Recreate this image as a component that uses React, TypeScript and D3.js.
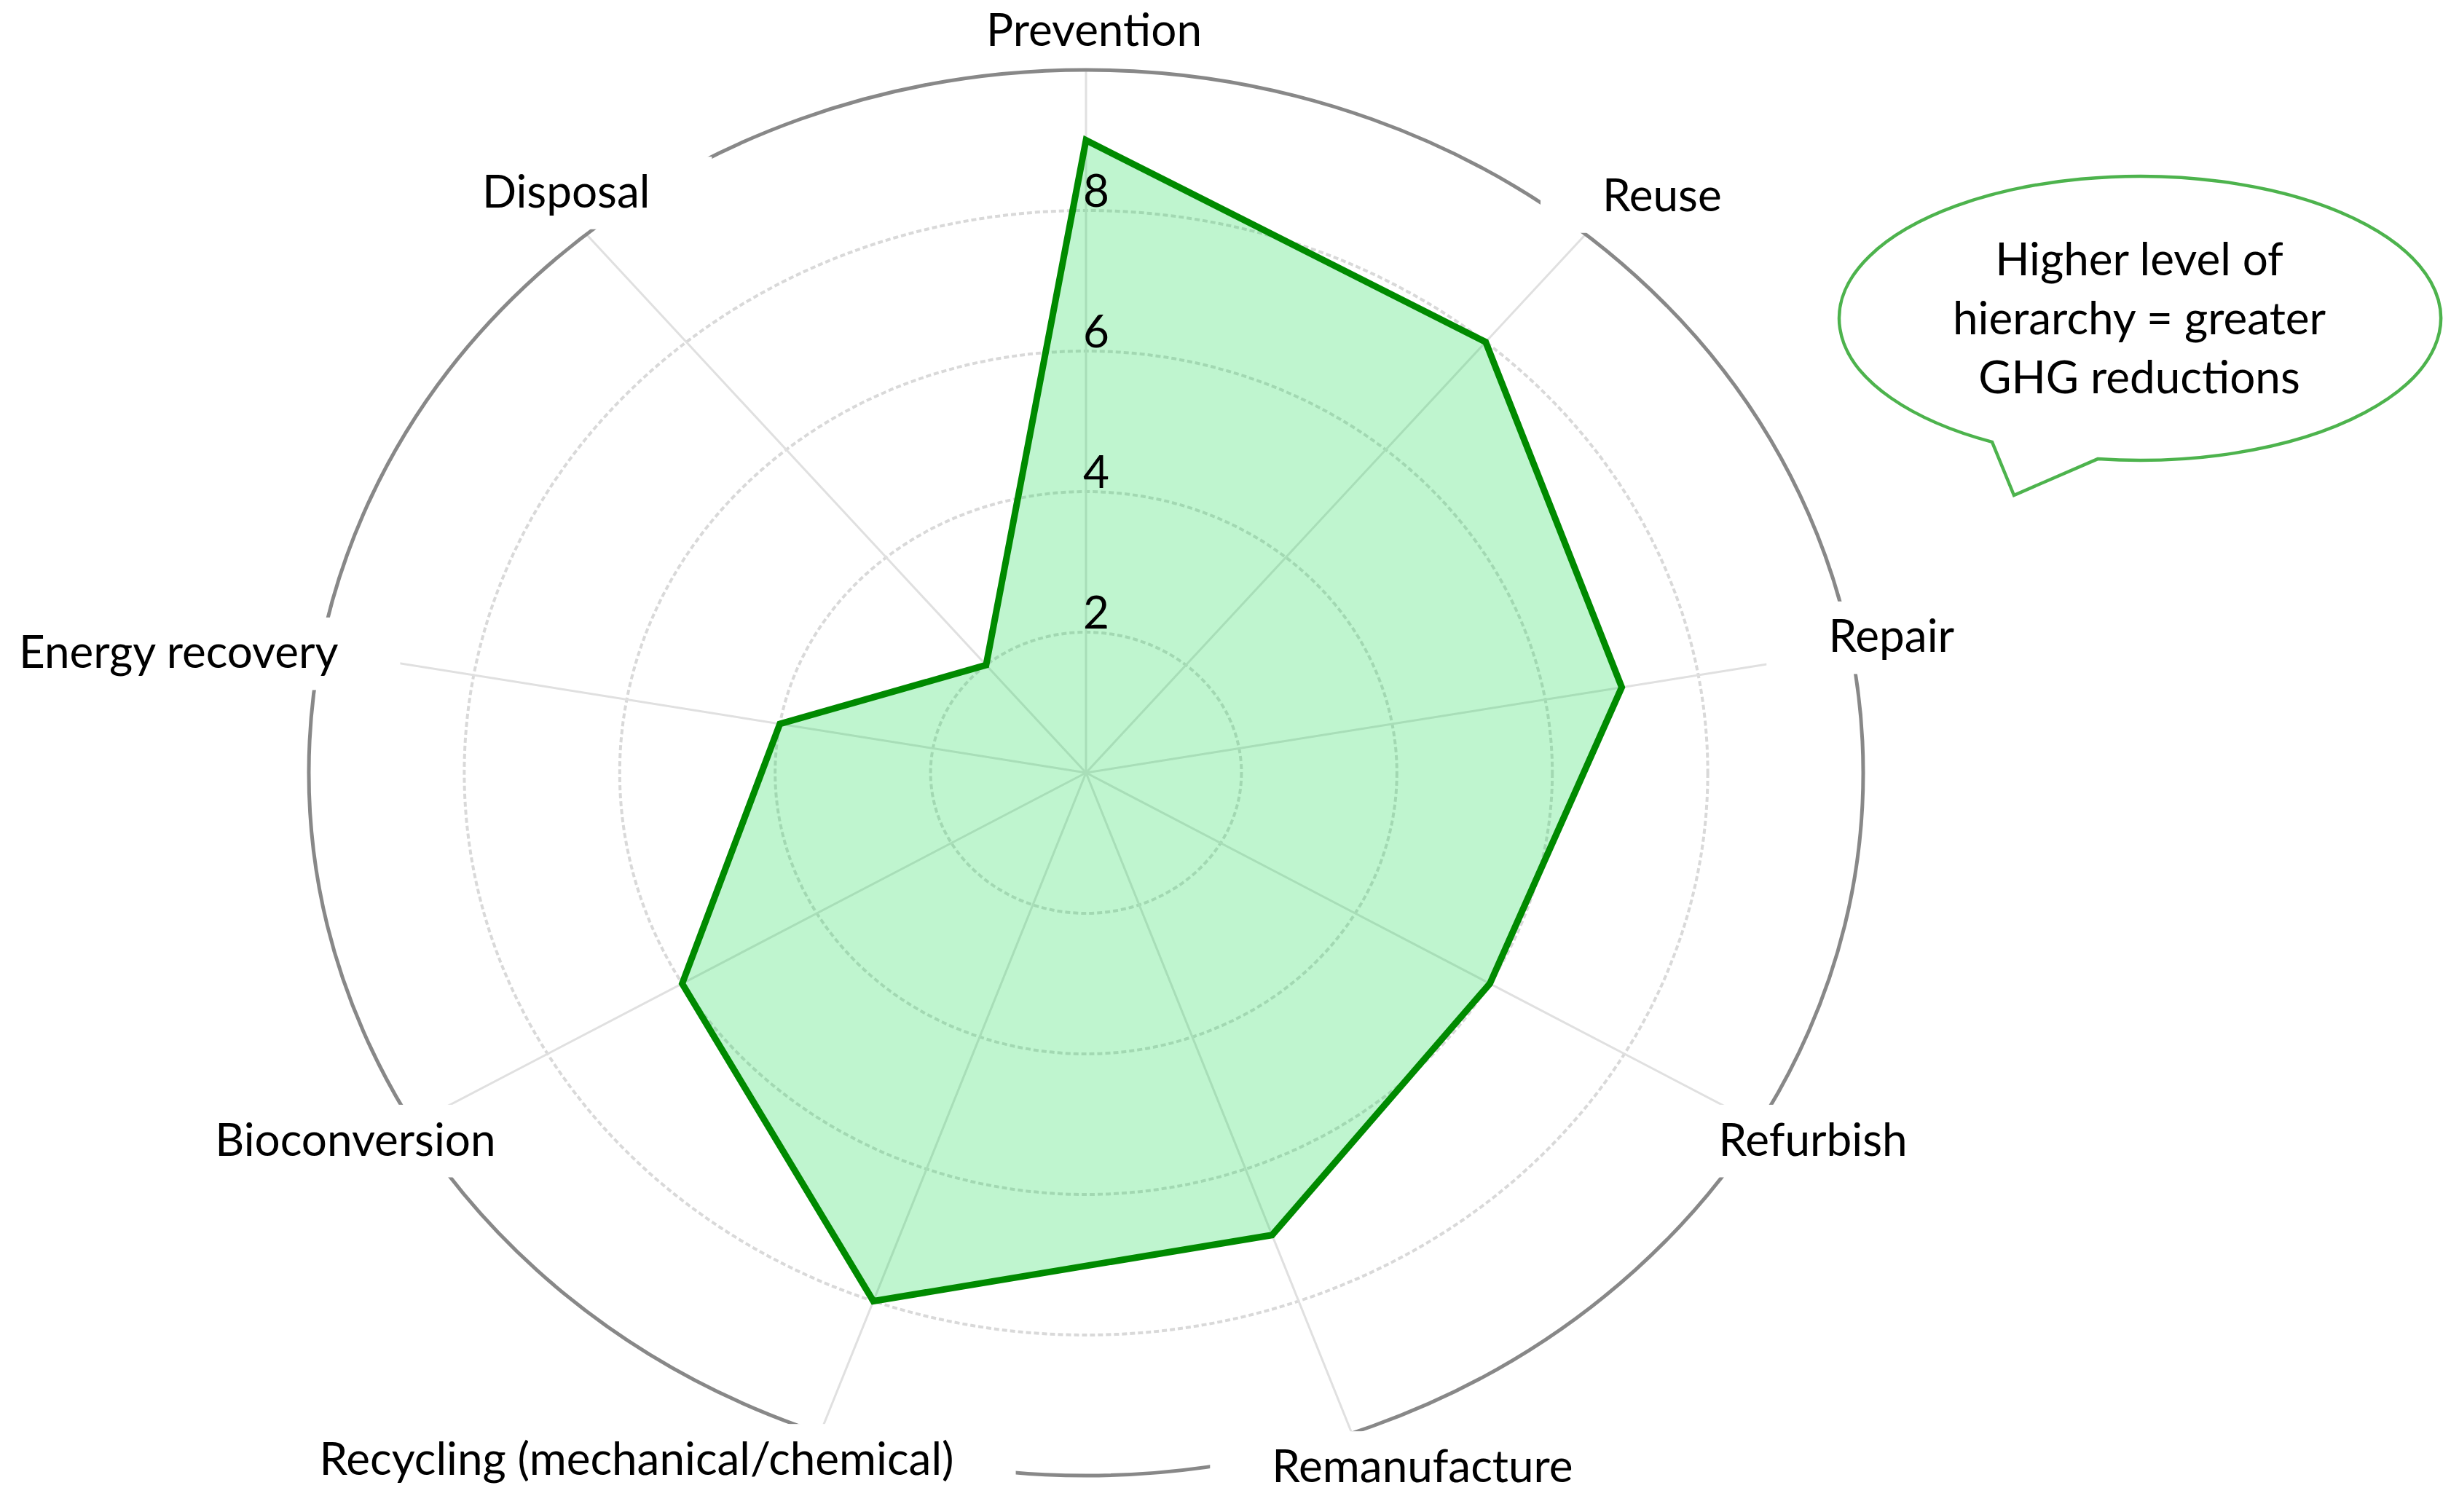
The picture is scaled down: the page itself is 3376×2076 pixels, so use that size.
import React, { useLayoutEffect, useRef, useState } from 'react';
import * as d3 from 'd3';

const categories = [
  'Prevention',
  'Reuse',
  'Repair',
  'Refurbish',
  'Remanufacture',
  'Recycling (mechanical/chemical)',
  'Bioconversion',
  'Energy recovery',
  'Disposal',
];
const reductionValues = [9, 8, 7, 6, 7, 8, 6, 4, 2];
const tickValues = [2, 4, 6, 8];
const maxValue = 10;
const bubbleLines = ['Higher level of', 'hierarchy = greater', 'GHG reductions'];

const WIDTH = 3376;
const HEIGHT = 2076;
const CX = 1491;
const CY = 1061;
const RX = 1067;
const RY = 965;
const FONT = 'Lato, "Liberation Sans", sans-serif';
const FONT_SIZE = 62;
const CAP = FONT_SIZE * 0.72;

// label nudge from the axis tip: [center x, baseline]
const labelNudge = [
  [11, -33], [105, -32], [55, 2], [74, 43], [97, 67],
  [-252, 57], [-79, 43], [-195, 24], [-28, -37],
];

const sx = d3.scaleLinear().domain([0, maxValue]).range([0, RX]);
const sy = d3.scaleLinear().domain([0, maxValue]).range([0, RY]);
const angle = d3.scaleLinear().domain([0, categories.length]).range([0, 2 * Math.PI]);

const pointAt = (i: number, v: number): [number, number] => [
  CX + Math.sin(angle(i)) * sx(v),
  CY - Math.cos(angle(i)) * sy(v),
];

const bubble = { cx: 2938, cy: 437, rx: 413, ry: 195 };
const tailLeftX = 2735;
const tailRightX = 2880;
const tailTip = [2765, 680];

const bubbleBottomY = (x: number) =>
  bubble.cy + bubble.ry * Math.sqrt(1 - ((x - bubble.cx) / bubble.rx) ** 2);

const bubblePath = () => {
  const ly = bubbleBottomY(tailLeftX);
  const ry = bubbleBottomY(tailRightX);
  return `M${tailRightX},${ry} A${bubble.rx},${bubble.ry} 0 1 0 ${tailLeftX},${ly} L${tailTip[0]},${tailTip[1]} Z`;
};

export default function App() {
  const labelRefs = useRef<(SVGTextElement | null)[]>([]);
  const [widths, setWidths] = useState<number[]>([]);

  useLayoutEffect(() => {
    const measure = () =>
      setWidths(labelRefs.current.map(el => (el ? el.getBBox().width : 0)));
    measure();
    if ((document as any).fonts) (document as any).fonts.ready.then(measure);
  }, []);

  const line = d3
    .line<number>()
    .x((d, i) => pointAt(i, d)[0])
    .y((d, i) => pointAt(i, d)[1])
    .curve(d3.curveLinearClosed);

  const padX = 85;

  return (
    <svg
      width={WIDTH}
      height={HEIGHT}
      style={{ position: 'absolute', left: 0, top: 0, background: '#fff' }}
      fontFamily={FONT}
      fontSize={FONT_SIZE}
    >
      <rect width={WIDTH} height={HEIGHT} fill="#fff" />
      <g className="rings">
        {tickValues.map(t => (
          <ellipse
            key={t}
            cx={CX}
            cy={CY}
            rx={sx(t)}
            ry={sy(t)}
            fill="none"
            stroke="#d9d9d9"
            strokeWidth={4}
            strokeDasharray="7 4"
          />
        ))}
      </g>
      <g className="spokes">
        {categories.map((c, i) => {
          const [x, y] = pointAt(i, maxValue);
          return <line key={c} x1={CX} y1={CY} x2={x} y2={y} stroke="#e0e0e0" strokeWidth={3} />;
        })}
      </g>
      <ellipse cx={CX} cy={CY} rx={sx(maxValue)} ry={sy(maxValue)} fill="none" stroke="#888" strokeWidth={5} />
      <path
        d={line(reductionValues) || ''}
        fill="rgba(0, 214, 65, 0.25)"
        stroke="#008a00"
        strokeWidth={9}
        strokeLinejoin="miter"
      />
      <g className="labels">
        {categories.map((c, i) => {
          const [x, y] = pointAt(i, maxValue);
          const lx = x + labelNudge[i][0];
          const ly = y + labelNudge[i][1];
          const w = widths[i] || 0;
          return (
            <g key={c}>
              {w > 0 && (
                <rect
                  x={lx - w / 2 - padX}
                  y={ly - CAP - 25}
                  width={w + 2 * padX}
                  height={CAP + 55}
                  fill="#fff"
                />
              )}
              <text
                ref={el => {
                  labelRefs.current[i] = el;
                }}
                x={lx}
                y={ly}
                textAnchor="middle"
                fill="#000"
              >
                {c}
              </text>
            </g>
          );
        })}
      </g>
      <g className="ticks">
        {tickValues.map(t => (
          <text key={t} x={CX + 14} y={CY - sy(t) - 5} textAnchor="middle" fill="#000">
            {t}
          </text>
        ))}
      </g>
      <g className="bubble">
        <path d={bubblePath()} fill="#fff" stroke="#4db34d" strokeWidth={4.5} strokeLinejoin="miter" />
        {bubbleLines.map((l, i) => (
          <text key={l} x={bubble.cx - 1} y={378 + i * 81} textAnchor="middle" fill="#000">
            {l}
          </text>
        ))}
      </g>
    </svg>
  );
}
